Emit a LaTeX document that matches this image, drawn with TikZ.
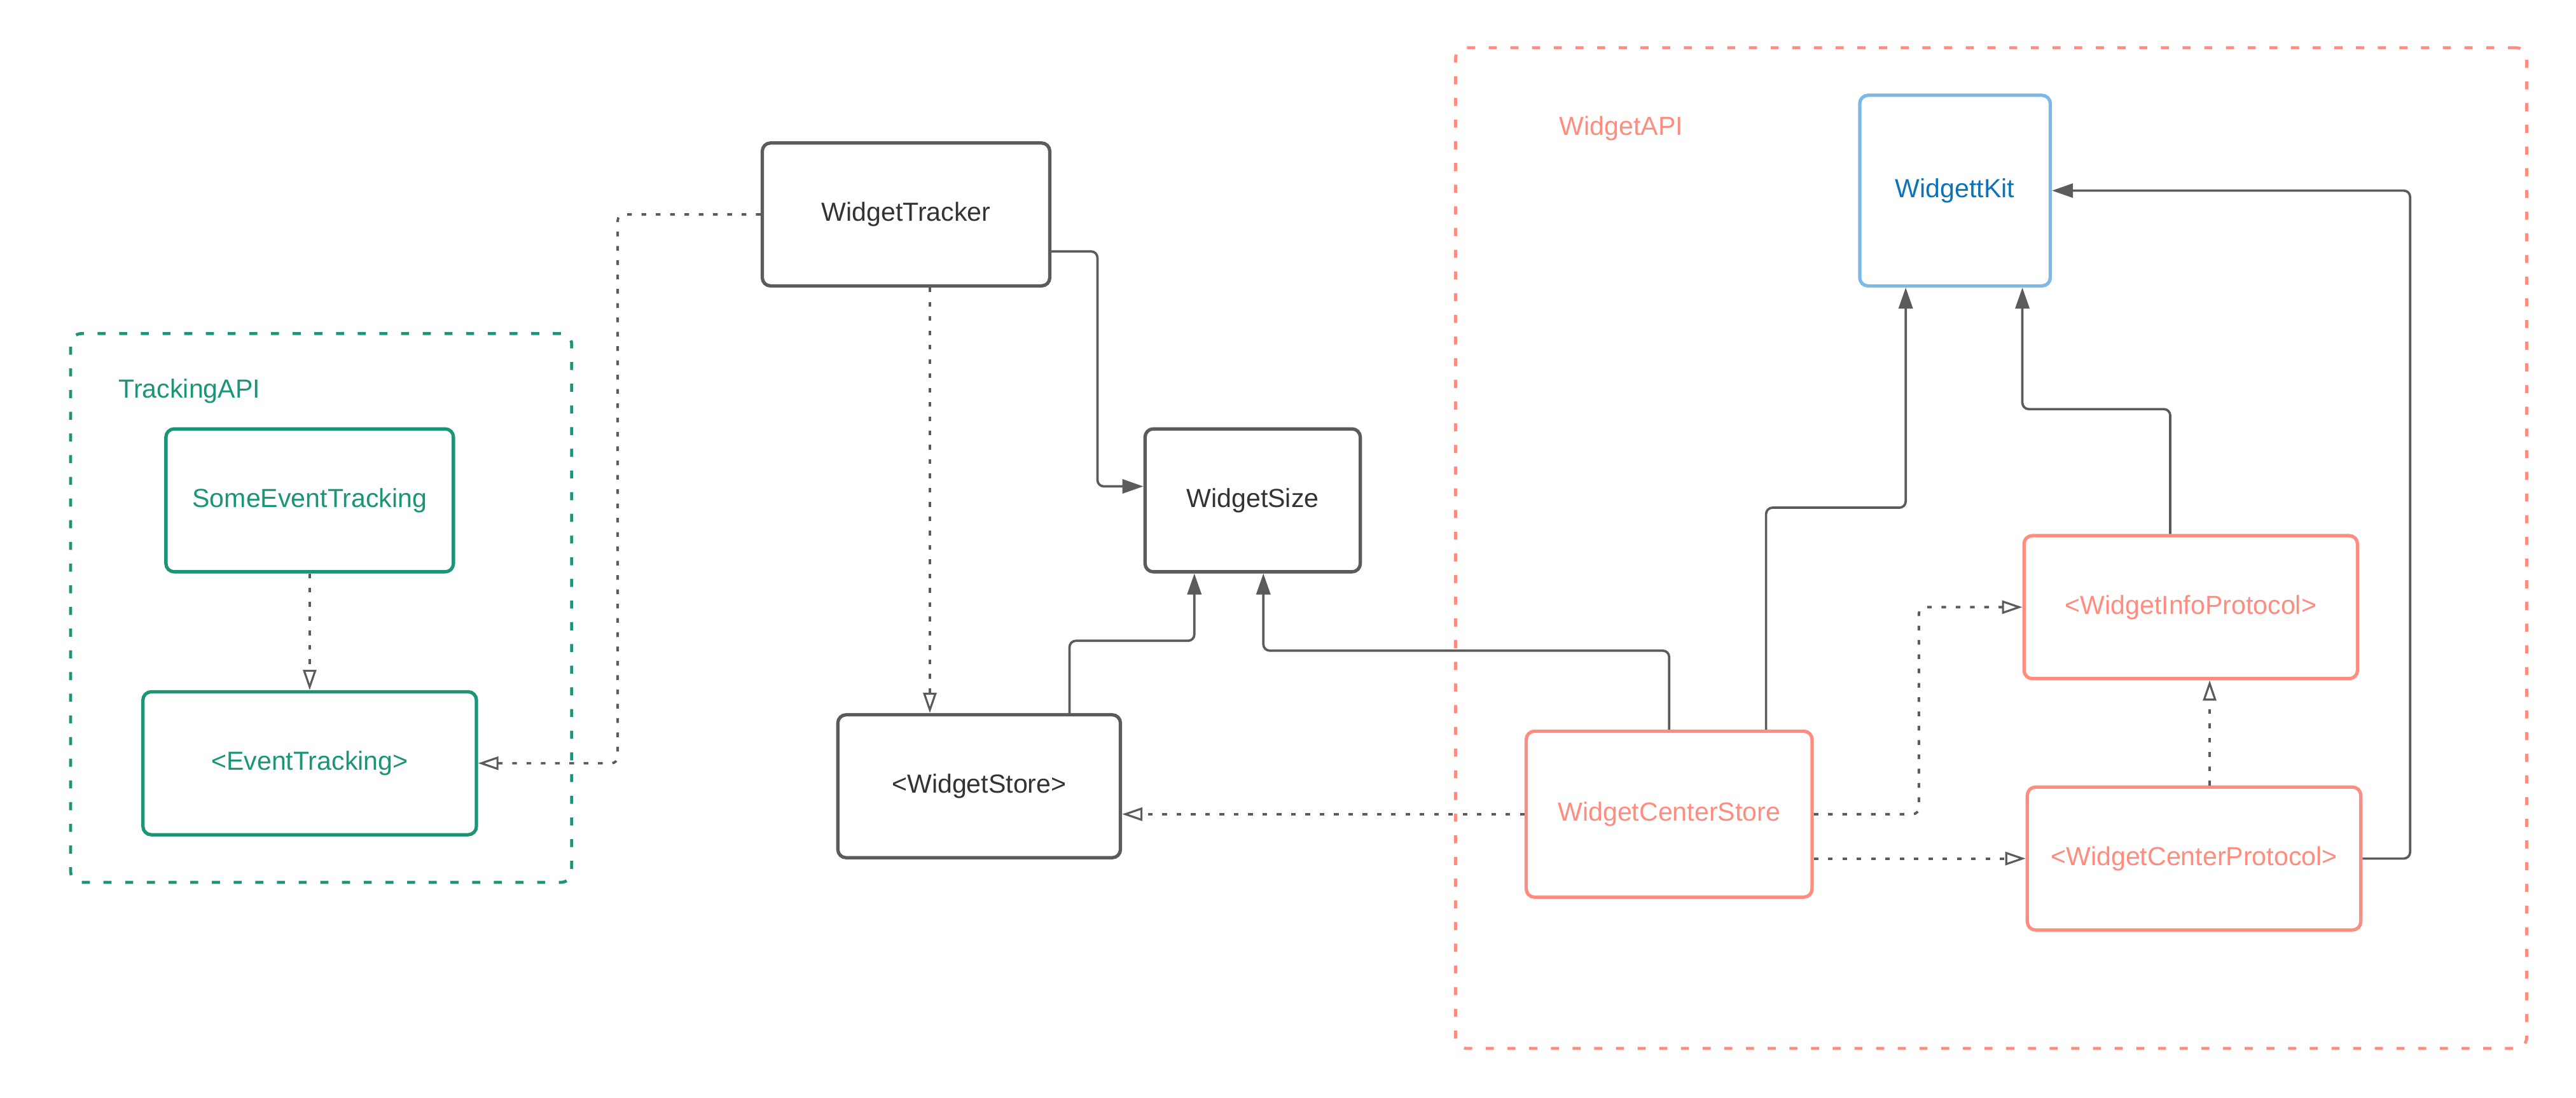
\documentclass[tikz,border=0pt]{standalone}
\usepackage{fontspec}
\setmainfont{Liberation Sans}
\usepackage{tikz}
\usetikzlibrary{arrows.meta,positioning,calc}
\definecolor{tgreen}{HTML}{1B9478}
\definecolor{salmon}{HTML}{FF8C7E}
\definecolor{kitblue}{HTML}{7DB9E8}
\definecolor{kittext}{HTML}{0B74B7}
\definecolor{lgray}{HTML}{5B5B5B}
\definecolor{dtext}{HTML}{333333}

\begin{document}
\begin{tikzpicture}[x=0.2583mm, y=-0.2583mm,
    every node/.style={font=\fontsize{11.7}{14}\selectfont},
    box/.style={draw, rounded corners=1.3mm, line width=1.5pt, minimum height=22.47mm},
    apibox/.style={draw, dash pattern=on 3.6pt off 6.1pt, line width=1.35pt, rounded corners=1.7mm},
    uses/.style={draw=lgray, line width=1.05pt, rounded corners=1mm, -{Triangle[length=3.3mm, width=2.2mm]}},
    dep/.style={draw=lgray, line width=1.1pt, dash pattern=on 2.1pt off 4.3pt, rounded corners=1mm, -{Triangle[open, length=3.2mm, width=2.1mm, line width=0.9pt]}}]
            \useasboundingbox (0,0) rectangle (1568,668);
            \node [apibox, draw=tgreen, minimum width=78.78mm, minimum height=86.27mm] (tgroup) at (195.5,370) {};
            \node [apibox, draw=salmon, minimum width=168.4mm, minimum height=157.3mm] (wgroup) at (1212,333.5) {};
            \node [text=tgreen, anchor=west, inner sep=0pt] (tapi) at (72,238) {TrackingAPI};
            \node [text=salmon, anchor=west, inner sep=0pt] (wapi) at (949,78) {WidgetAPI};
            \node [box, draw=tgreen, text=tgreen, minimum width=45.2mm] (setrack) at (188.5,304.5) {SomeEventTracking};
            \node [box, draw=tgreen, text=tgreen, minimum width=52.43mm] (evtrack) at (188.5,464.5) {<EventTracking>};
            \node [box, draw=lgray, text=dtext, minimum width=45.2mm] (wtracker) at (551.5,130.5) {WidgetTracker};
            \node [box, draw=lgray, text=dtext, minimum width=33.84mm] (wsize) at (762.5,304.5) {WidgetSize};
            \node [box, draw=lgray, text=dtext, minimum width=44.43mm] (wstore) at (596,478.5) {<WidgetStore>};
            \node [box, draw=kitblue, text=kittext, minimum width=29.96mm, minimum height=29.96mm] (wkit) at (1190,116) {WidgettKit};
            \node [box, draw=salmon, text=salmon, minimum width=52.43mm] (winfo) at (1333.5,369.5) {<WidgetInfoProtocol>};
            \node [box, draw=salmon, text=salmon, minimum width=44.94mm, minimum height=26.09mm] (wcstore) at (1016,495.5) {WidgetCenterStore};
            \node [box, draw=salmon, text=salmon, minimum width=52.43mm] (wcproto) at (1335.5,522.5) {<WidgetCenterProtocol>};
            \draw [dep] (setrack.south) -- (evtrack.north);
            \draw [dep] (wtracker.west) -- ++(-87,0) |- (evtrack.east);
            \draw [dep] ($(wtracker.south)+(14.5,0)$) coordinate (t1) -- (t1 |- wstore.north);
            \draw [uses] ($(wtracker.east)+(0,22.5)$) -- ++(28,0) |- ($(wsize.west)+(0,-8.5)$);
            \draw [uses] ($(wstore.north)+(55,0)$) -- ++(0,-44) -| ($(wsize.south)+(-35.5,0)$);
            \draw [uses] (wcstore.north) -- ++(0,-48) -| ($(wsize.south)+(6.5,0)$);
            \draw [dep] (wcstore.west) -- (wcstore.west -| wstore.east);
            \draw [uses] ($(wcstore.north)+(59,0)$) -- ++(0,-135) -| ($(wkit.south)+(-30,0)$);
            \draw [uses] ($(winfo.north)+(-12.5,0)$) -- ++(0,-76) -| ($(wkit.south)+(41,0)$);
            \draw [uses] (wcproto.east) -- ++(29,0) |- (wkit.east);
            \draw [dep] (wcstore.east) -- ++(64,0) |- (winfo.west);
            \draw [dep] ($(wcstore.east)+(0,27)$) -- (wcproto.west);
            \draw [dep] ($(wcproto.north)+(9.5,0)$) coordinate (t2) -- (t2 |- winfo.south);
            \end{tikzpicture}
\end{document}
